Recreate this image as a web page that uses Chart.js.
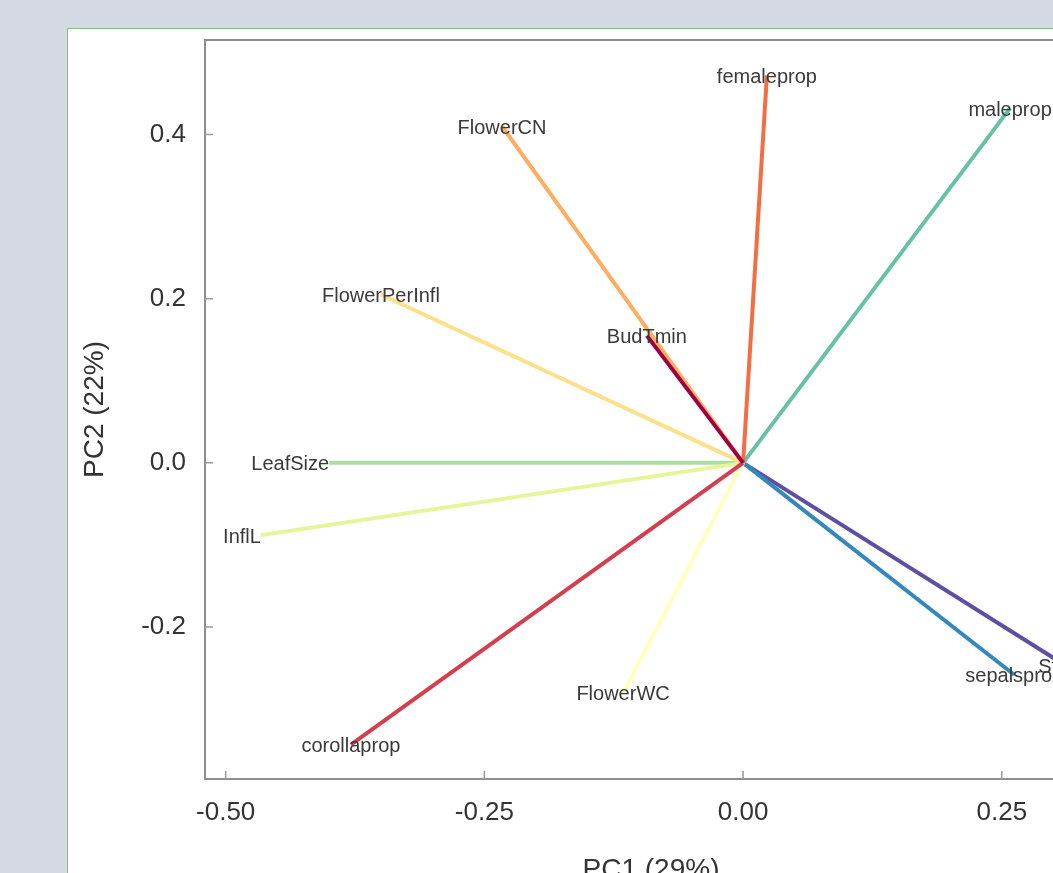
<!DOCTYPE html>
<html>
<head>
<meta charset="utf-8">
<title>PCA biplot</title>
<script src="https://cdn.jsdelivr.net/npm/chart.js@4.4.1/dist/chart.umd.min.js"></script>
<style>
  html, body { margin: 0; padding: 0; overflow: hidden; }
  body { width: 1053px; height: 873px; background: #d4d9e2; position: relative; }
  #panel {
    position: absolute; left: 67px; top: 28px;
    width: 1100px; height: 900px;
    background: #ffffff; border: 1px solid #8fb98a;
  }
  #wrap { position: absolute; left: 0; top: 0; width: 1100px; height: 900px; }
</style>
</head>
<body>
<div id="panel">
  <div id="wrap"><canvas id="biplot"></canvas></div>
</div>
<script>
// loadings (PC1, PC2) for each trait
const traits = ['BudTmin', 'corollaprop', 'femaleprop', 'FlowerCN', 'FlowerPerInfl', 'FlowerWC',
                'InflL', 'LeafSize', 'maleprop', 'sepalsprop', 'StyleL'];
const pc1 = [-0.093, -0.379, 0.023, -0.233, -0.350, -0.116, -0.466, -0.400, 0.258, 0.262, 0.312];
const pc2 = [0.155, -0.343, 0.472, 0.410, 0.205, -0.280, -0.088, 0.000, 0.432, -0.258, -0.247];

const xTicks = [-0.50, -0.25, 0.00, 0.25];
const yTicks = [-0.2, 0.0, 0.2, 0.4];
const xTitle = 'PC1 (29%)';
const yTitle = 'PC2 (22%)';

// Spectral palette, one colour per trait
const spectral = ['#9e0142', '#d53e4f', '#f46d43', '#fdae61', '#fee08b', '#ffffbf',
                  '#e6f598', '#abdda4', '#66c2a5', '#3288bd', '#5e4fa2'];
// a couple of labels sit left of their arrow tip
const rightAligned = ['InflL', 'LeafSize'];

const datasets = traits.map((name, i) => ({
  label: name,
  data: [{x: 0, y: 0}, {x: pc1[i], y: pc2[i]}],
  showLine: true,
  borderColor: spectral[i],
  borderWidth: 4,
  pointRadius: 0,
  borderCapStyle: 'butt'
}));

// plot frame + inward tick marks like base R
const framePlugin = {
  id: 'frame',
  beforeDatasetsDraw(chart) {
    const {ctx, chartArea: a, scales} = chart;
    ctx.save();
    ctx.strokeStyle = '#8e8e8e';
    ctx.lineWidth = 2;
    ctx.strokeRect(a.left, a.top, a.right - a.left, a.bottom - a.top);
    ctx.lineWidth = 1.5;
    ctx.strokeStyle = '#9a9a9a';
    ctx.beginPath();
    xTicks.forEach(v => {
      const px = scales.x.getPixelForValue(v);
      ctx.moveTo(px, a.bottom);
      ctx.lineTo(px, a.bottom - 8);
    });
    yTicks.forEach(v => {
      const py = scales.y.getPixelForValue(v);
      ctx.moveTo(a.left, py);
      ctx.lineTo(a.left + 8, py);
    });
    ctx.stroke();
    ctx.restore();
  }
};

// trait names at arrow tips
const tipLabels = {
  id: 'tipLabels',
  afterDatasetsDraw(chart) {
    const ctx = chart.ctx;
    ctx.save();
    ctx.font = '20px "Liberation Sans", Arial, sans-serif';
    ctx.fillStyle = '#3a3a3a';
    ctx.textBaseline = 'middle';
    chart.data.datasets.forEach((ds, i) => {
      const tip = chart.getDatasetMeta(i).data[1];
      ctx.textAlign = rightAligned.includes(ds.label) ? 'right' : 'center';
      ctx.fillText(ds.label, tip.x, tip.y + 2);
    });
    ctx.restore();
  }
};

const tickFont = {family: '"Liberation Sans", Arial, sans-serif', size: 26};
const titleFont = {family: '"Liberation Sans", Arial, sans-serif', size: 28};

new Chart(document.getElementById('biplot'), {
  type: 'scatter',
  data: {datasets: datasets},
  options: {
    responsive: true,
    maintainAspectRatio: false,
    animation: false,
    layout: {padding: {top: 11, right: 71, left: 0, bottom: 0}},
    plugins: {legend: {display: false}, tooltip: {enabled: false}},
    scales: {
      x: {
        type: 'linear',
        min: -0.52, max: 0.342,
        grid: {display: false},
        border: {display: false},
        afterBuildTicks: s => { s.ticks = xTicks.map(v => ({value: v})); },
        afterFit: s => { s.height = 150; s.paddingLeft = 0; s.paddingRight = 0; },
        ticks: {font: tickFont, color: '#333', padding: 10, maxRotation: 0,
                callback: v => v.toFixed(2)},
        title: {display: true, text: xTitle, font: titleFont, color: '#333',
                padding: {top: 0, bottom: 42}}
      },
      y: {
        type: 'linear',
        min: -0.385, max: 0.515,
        grid: {display: false},
        border: {display: false},
        afterBuildTicks: s => { s.ticks = yTicks.map(v => ({value: v})); },
        afterFit: s => { s.width = 137; s.paddingTop = 0; s.paddingBottom = 0; },
        ticks: {font: tickFont, color: '#333', padding: 11,
                callback: v => v.toFixed(1)},
        title: {display: true, text: yTitle, font: titleFont, color: '#333',
                padding: {top: 10, bottom: 0}}
      }
    }
  },
  plugins: [framePlugin, tipLabels]
});
</script>
</body>
</html>
